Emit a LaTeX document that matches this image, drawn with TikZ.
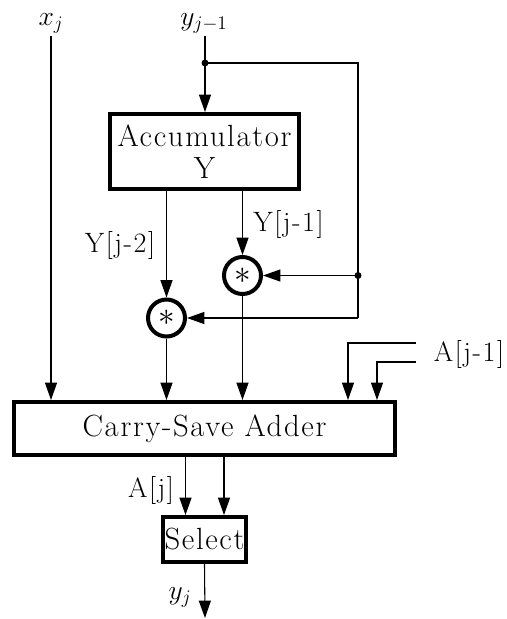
\documentclass[tikz,border=0pt]{standalone}
\usepackage{amsmath}
\usepackage{fontspec}
\setmainfont{Latin Modern Roman}[LetterSpace=5.5]
\usepackage{tikz}
\usetikzlibrary{arrows.meta,calc}

\newcommand{\blockfont}{\fontsize{23}{24}\selectfont}
\newcommand{\labelfont}{\fontsize{21}{22}\selectfont}
\tikzset{
  block/.style={draw,line width=3pt,inner sep=0pt,align=center,font=\blockfont},
  mult/.style={draw,circle,line width=3pt,minimum size=27.75pt,inner sep=0pt,font=\blockfont},
  lbl/.style={inner sep=0pt,font=\labelfont},
  mathlbl/.style={inner sep=0pt,font=\labelfont},
  wire/.style={line width=0.8pt},
  junction/.style={circle,fill,inner sep=0pt,minimum size=5.25pt},
}

\begin{document}
\begin{tikzpicture}[>={Triangle[length=13pt,width=9pt]},x=0.75pt,y=-0.75pt]
      \useasboundingbox (0,0) rectangle (507,619);
      % blocks
      \node[block,minimum width=141.75pt,minimum height=56.25pt] (acc) at (204.5,151.5) {Accumulator\\Y};
      \node[block,minimum width=285.75pt,minimum height=39.75pt] (csa) at (204.5,428.5) {Carry-Save Adder};
      \node[block,minimum width=62.25pt,minimum height=33.75pt] (sel) at (204.5,539.5) {Select};
      \node[mult] (mulA) at (242.5,275.5) {$*$};
      \node[mult] (mulB) at (166.5,318) {$*$};
      % free ends and corners
      \coordinate (xin) at (51,36);
      \coordinate (yin) at (205,36);
      \coordinate (fork) at (205,63);
      \coordinate (fbtop) at (358,63);
      \coordinate (fbmid) at (358,275.5);
      \coordinate (fbbot) at (358,318);
      \coordinate (ain1) at (416,343);
      \coordinate (ain2) at (416,362);
      \coordinate (acorner1) at (348,343);
      \coordinate (acorner2) at (377,362);
      \coordinate (outA) at (185.5,480);
      \coordinate (outB) at (224,480);
      \coordinate (yout) at (205,618);
      % labels
      \node[mathlbl] (xlab) at (51,23) {$\displaystyle x_j$};
      \node[mathlbl] (ylab) at (204,23) {$\displaystyle y_{j-1}$};
      \node[lbl] (ymtwo) at (120,245) {Y[j-2]};
      \node[lbl] (ymone) at (288.5,224) {Y[j-1]};
      \node[lbl] (amone) at (469,354) {A[j-1]};
      \node[lbl] (aj) at (151,490) {A[j]};
      \node[mathlbl] (yjlab) at (180,597) {$y_j$};
      % connectors
      \draw[wire,->] (xin) -- (xin |- csa.north);
      \draw[wire,->] (yin) -- (yin |- acc.north);
      \draw[wire] (fork) -- (fbtop) -- (fbbot);
      \draw[wire,->] (fbmid) -- (mulA.east);
      \draw[wire,->] (fbbot) -- (mulB.east);
      \node[junction] (j1) at (fork) {};
      \node[junction] (j2) at (fbmid) {};
      \draw[wire,->] (acc.south -| mulB) -- (mulB.north);
      \draw[wire,->] (acc.south -| mulA) -- (mulA.north);
      \draw[wire,->] (mulB.south) -- (mulB |- csa.north);
      \draw[wire,->] (mulA.south) -- (mulA |- csa.north);
      \draw[wire,->] (ain1) -- (acorner1) -- (acorner1 |- csa.north);
      \draw[wire,->] (ain2) -- (acorner2) -- (acorner2 |- csa.north);
      \draw[wire,->] (csa.south -| outA) -- (sel.north -| outA);
      \draw[wire,->] (csa.south -| outB) -- (sel.north -| outB);
      \draw[wire,->] (sel.south) -- (yout);
    \end{tikzpicture}
\end{document}
